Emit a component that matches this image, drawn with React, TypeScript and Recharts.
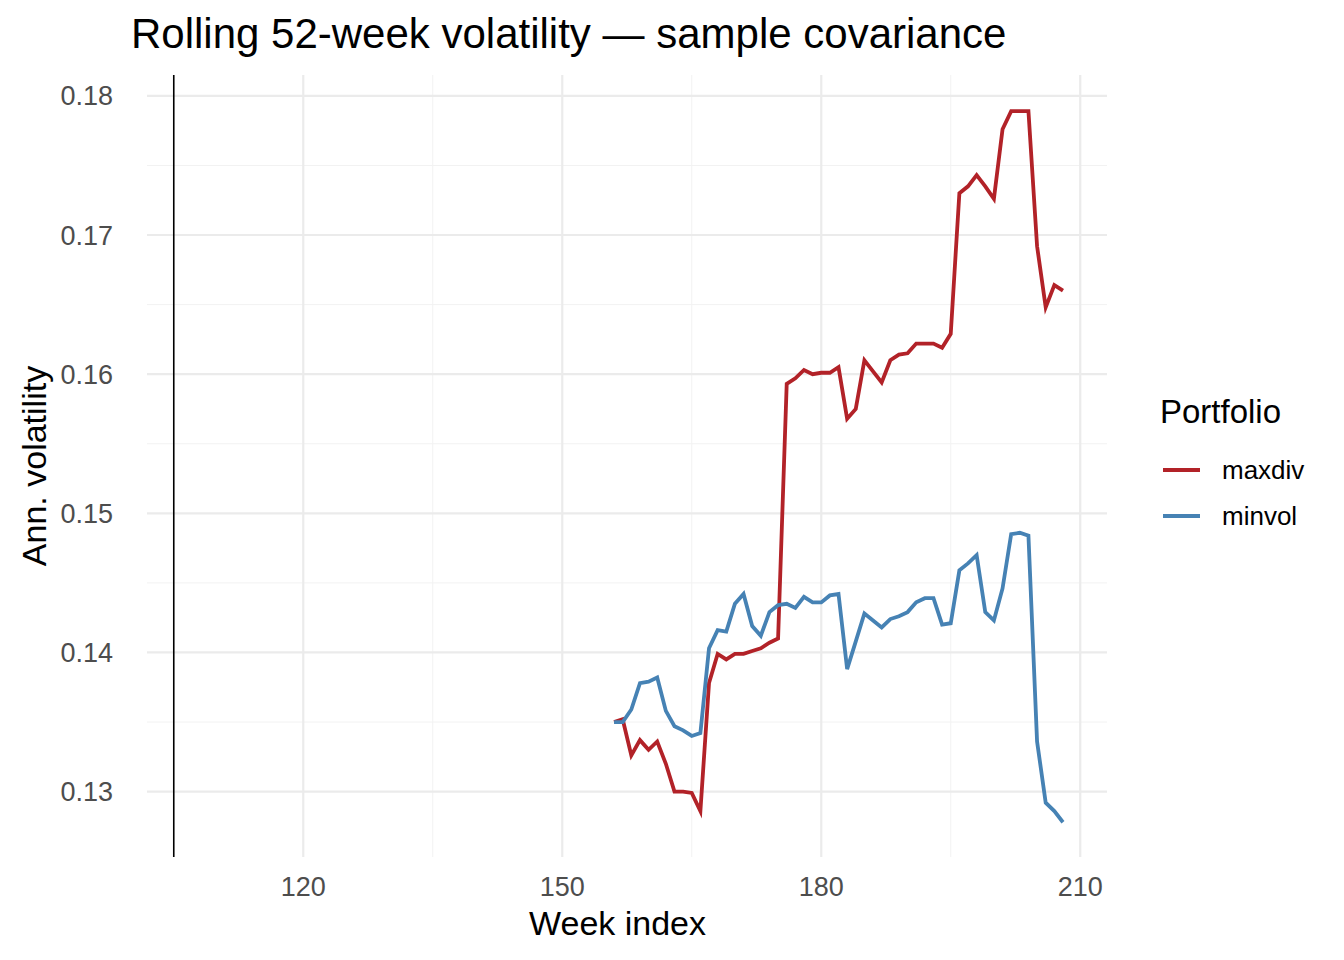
import { LineChart, Line, XAxis, YAxis, ReferenceLine } from 'recharts'

const weeks = Array.from({ length: 53 }, (_, i) => 156 + i)

const maxdiv = [
  0.135, 0.1352, 0.1326, 0.1337, 0.133, 0.1336, 0.132, 0.13, 0.13, 0.1299,
  0.1286, 0.1378, 0.1399, 0.1395, 0.1399, 0.1399, 0.1401, 0.1403, 0.1407, 0.141,
  0.1593, 0.1597, 0.1603, 0.16, 0.1601, 0.1601, 0.1605, 0.1568, 0.1575, 0.161,
  0.1602, 0.1594, 0.161, 0.1614, 0.1615, 0.1622, 0.1622, 0.1622, 0.1619, 0.1629,
  0.173, 0.1735, 0.1743, 0.1735, 0.1726, 0.1776, 0.1789, 0.1789, 0.1789, 0.1692,
  0.1648, 0.1664, 0.166,
]

const minvol = [
  0.135, 0.135, 0.1359, 0.1378, 0.1379, 0.1382, 0.1358, 0.1347, 0.1344, 0.134,
  0.1342, 0.1403, 0.1416, 0.1415, 0.1435, 0.1442, 0.1419, 0.1412, 0.1429, 0.1434,
  0.1435, 0.1432, 0.144, 0.1436, 0.1436, 0.1441, 0.1442, 0.1388, 0.1408, 0.1428,
  0.1423, 0.1418, 0.1424, 0.1426, 0.1429, 0.1436, 0.1439, 0.1439, 0.142, 0.1421,
  0.1459, 0.1464, 0.147, 0.1429, 0.1423, 0.1446, 0.1485, 0.1486, 0.1484, 0.1336,
  0.1292, 0.1286, 0.1278,
]

const xTicks = [120, 150, 180, 210]
const xMinor = [105, 135, 165, 195]
const yTicks = [0.13, 0.14, 0.15, 0.16, 0.17, 0.18]
const yMinor = [0.135, 0.145, 0.155, 0.165, 0.175]

const data = weeks.map((w, i) => ({ week: w, maxdiv: maxdiv[i], minvol: minvol[i] }))

const font = 'Arial, "Liberation Sans", sans-serif'

export default function App() {
  return (
    <div style={{ position: 'absolute', left: 0, top: 0, width: 1344, height: 960, background: '#fff', fontFamily: font }}>
      <div style={{ position: 'absolute', left: 131, top: 10, fontSize: 42, color: '#000' }}>
        Rolling 52-week volatility — sample covariance
      </div>
      <LineChart width={1344} height={960} data={data} margin={{ top: 75, right: 237, bottom: 63, left: 0 }}>
        {yMinor.map((v) => <ReferenceLine key={'ym' + v} y={v} stroke="#f2f2f2" strokeWidth={1} />)}
        {xMinor.map((v) => <ReferenceLine key={'xm' + v} x={v} stroke="#f2f2f2" strokeWidth={1} />)}
        {yTicks.map((v) => <ReferenceLine key={'y' + v} y={v} stroke="#ebebeb" strokeWidth={2.2} />)}
        {xTicks.map((v) => <ReferenceLine key={'x' + v} x={v} stroke="#ebebeb" strokeWidth={2.2} />)}
        <ReferenceLine x={105} stroke="#000" strokeWidth={1.6} />
        <XAxis
          dataKey="week"
          type="number"
          domain={[101.9, 213.1]}
          allowDataOverflow
          ticks={xTicks}
          axisLine={false}
          tickLine={false}
          height={40}
          tick={{ fontSize: 27, fill: '#4d4d4d', fontFamily: font }}
          tickMargin={14}
        />
        <YAxis
          type="number"
          domain={[0.1253, 0.1815]}
          allowDataOverflow
          ticks={yTicks}
          tickFormatter={(v) => v.toFixed(2)}
          axisLine={false}
          tickLine={false}
          width={147}
          tick={{ fontSize: 27, fill: '#4d4d4d', fontFamily: font }}
          tickMargin={28}
        />
        <Line dataKey="maxdiv" stroke="#b22228" strokeWidth={3.8} dot={false} isAnimationActive={false} />
        <Line dataKey="minvol" stroke="#4682b4" strokeWidth={3.8} dot={false} isAnimationActive={false} />
      </LineChart>
      <div style={{ position: 'absolute', left: 529, top: 904, fontSize: 34, color: '#000' }}>Week index</div>
      <div style={{ position: 'absolute', left: 34, top: 466, fontSize: 34, color: '#000', transform: 'translate(-50%, -50%) rotate(-90deg)', whiteSpace: 'nowrap' }}>
        Ann. volatility
      </div>
      <div style={{ position: 'absolute', left: 1160, top: 393, fontSize: 33, color: '#000' }}>Portfolio</div>
      {[['maxdiv', '#b22228', 470], ['minvol', '#4682b4', 516]].map(([name, color, y]) => (
        <div key={name as string} style={{ position: 'absolute', left: 1163, top: (y as number) - 15, height: 30, display: 'flex', alignItems: 'center' }}>
          <div style={{ width: 37, height: 4, background: color as string }} />
          <span style={{ marginLeft: 22, fontSize: 26, color: '#000' }}>{name}</span>
        </div>
      ))}
    </div>
  )
}
